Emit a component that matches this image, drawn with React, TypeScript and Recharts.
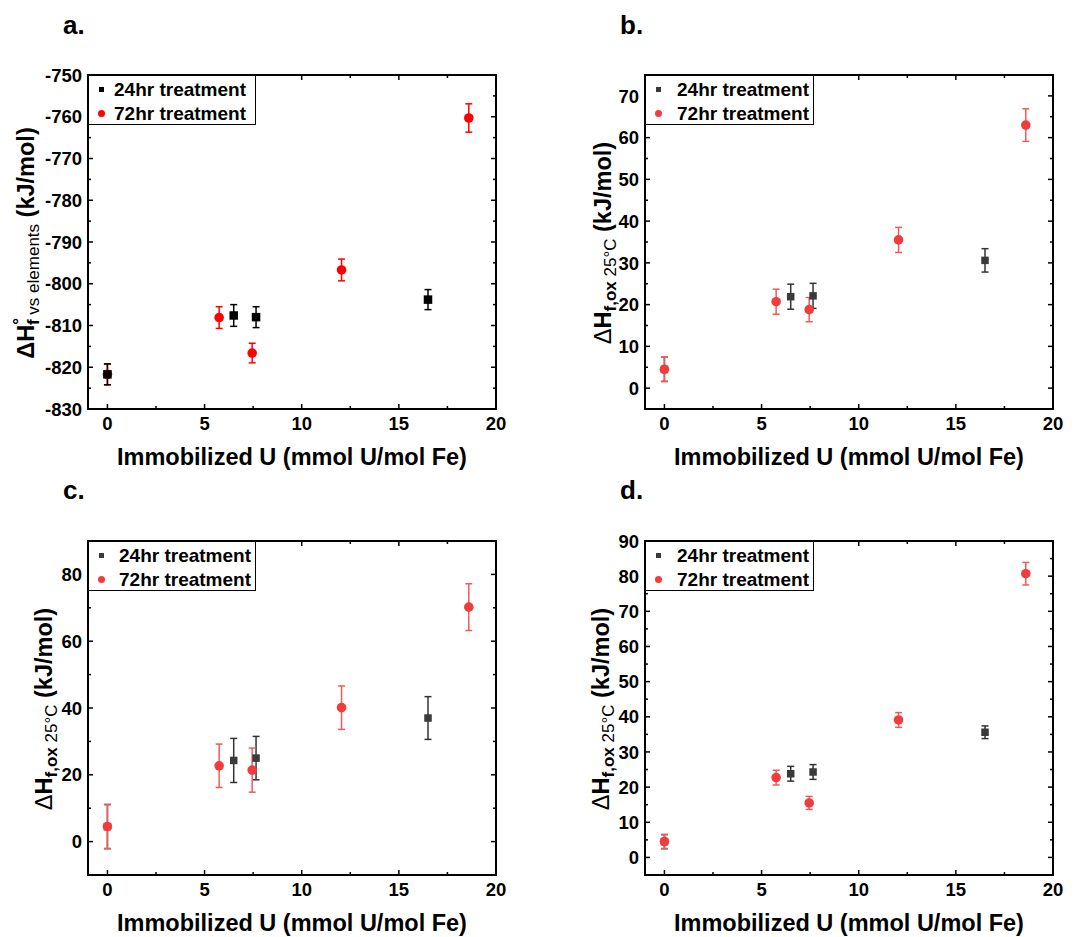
import React from "react";
import {
  ScatterChart,
  Scatter,
  XAxis,
  YAxis,
  ErrorBar,
  ReferenceArea,
  Legend,
} from "recharts";

// immobilized U (mmol U/mol Fe) for each treatment
const x24 = [0, 6.5, 7.65, 16.5];
const x72 = [0, 5.75, 7.45, 12.05, 18.6];
const xMajor = [0, 5, 10, 15, 20];
const xMinor = [2.5, 7.5, 12.5, 17.5];

// a. ΔH°f vs elements
const a24 = [-821.7, -807.6, -808.0, -803.8];
const a24Err = [2.5, 2.6, 2.5, 2.4];
const a72 = [-821.7, -808.1, -816.6, -796.7, -760.3];
const a72Err = [2.5, 2.6, 2.35, 2.6, 3.4];
const aMajor = [-830, -820, -810, -800, -790, -780, -770, -760, -750];
const aMinor = [-825, -815, -805, -795, -785, -775, -765, -755];

// b. ΔHf,ox 25°C
const b24 = [4.5, 21.9, 22.1, 30.6];
const b24Err = [2.9, 3.0, 3.0, 2.8];
const b72 = [4.5, 20.7, 18.8, 35.5, 63.0];
const b72Err = [2.9, 3.0, 2.9, 3.0, 3.9];
const bMajor = [0, 10, 20, 30, 40, 50, 60, 70];
const bMinor = [-5, 5, 15, 25, 35, 45, 55, 65, 75];

// c. ΔHf,ox 25°C
const c24 = [4.5, 24.3, 25.0, 37.0];
const c24Err = [6.6, 6.6, 6.5, 6.4];
const c72 = [4.5, 22.7, 21.4, 40.1, 70.2];
const c72Err = [6.6, 6.5, 6.6, 6.5, 7.0];
const cMajor = [0, 20, 40, 60, 80];
const cMinor = [-10, 10, 30, 50, 70, 90];

// d. ΔHf,ox 25°C
const d24 = [4.5, 23.8, 24.3, 35.6];
const d24Err = [2.0, 2.1, 2.1, 1.8];
const d72 = [4.5, 22.7, 15.5, 39.1, 80.7];
const d72Err = [2.0, 2.1, 1.85, 2.1, 3.2];
const dMajor = [0, 10, 20, 30, 40, 50, 60, 70, 80, 90];
const dMinor = [-5, 5, 15, 25, 35, 45, 55, 65, 75, 85];

const seriesNames = ["24hr treatment", "72hr treatment"];
const xTitle = "Immobilized U (mmol U/mol Fe)";

const FONT = "'Liberation Sans', Arial, sans-serif";
const Y_AXIS_W = 60;
const X_AXIS_H = 40;

const rows = (xs: number[], ys: number[], errs: number[]) =>
  xs.map((x, i) => ({ x, y: ys[i], err: errs[i] }));

type Spec = {
  title: string;
  left: number;
  top: number;
  height: number;
  margin: { top: number; right: number; bottom: number; left: number };
  yDomain: [number, number];
  yMajor: number[];
  yMinor: number[];
  d24: { x: number; y: number; err: number }[];
  d72: { x: number; y: number; err: number }[];
  classic: boolean; // panel a: pure black / red, 24hr drawn on top
  yKind: "elements" | "ox";
  yTitleX: number;
  titleX: number;
  titleY: number;
  legendW: number;
  legendTextX: number;
};

const panels: Spec[] = [
  {
    title: "a.",
    left: 0,
    top: 0,
    height: 470,
    margin: { top: 75, right: 47, bottom: 21, left: 28 },
    yDomain: [-830, -750],
    yMajor: aMajor,
    yMinor: aMinor,
    d24: rows(x24, a24, a24Err),
    d72: rows(x72, a72, a72Err),
    classic: true,
    yKind: "elements",
    yTitleX: 34,
    titleX: 63,
    titleY: 34,
    legendW: 168,
    legendTextX: 25,
  },
  {
    title: "b.",
    left: 543,
    top: 0,
    height: 470,
    margin: { top: 75, right: 33, bottom: 21, left: 42 },
    yDomain: [-5, 75],
    yMajor: bMajor,
    yMinor: bMinor,
    d24: rows(x24, b24, b24Err),
    d72: rows(x72, b72, b72Err),
    classic: false,
    yKind: "ox",
    yTitleX: 68,
    titleX: 77,
    titleY: 34,
    legendW: 169,
    legendTextX: 31,
  },
  {
    title: "c.",
    left: 0,
    top: 470,
    height: 467,
    margin: { top: 71, right: 47, bottom: 22, left: 28 },
    yDomain: [-10, 90],
    yMajor: cMajor,
    yMinor: cMinor,
    d24: rows(x24, c24, c24Err),
    d72: rows(x72, c72, c72Err),
    classic: false,
    yKind: "ox",
    yTitleX: 52,
    titleX: 63,
    titleY: 29,
    legendW: 168,
    legendTextX: 30,
  },
  {
    title: "d.",
    left: 543,
    top: 470,
    height: 467,
    margin: { top: 71, right: 33, bottom: 22, left: 42 },
    yDomain: [-5, 90],
    yMajor: dMajor,
    yMinor: dMinor,
    d24: rows(x24, d24, d24Err),
    d72: rows(x72, d72, d72Err),
    classic: false,
    yKind: "ox",
    yTitleX: 66,
    titleX: 77,
    titleY: 29,
    legendW: 169,
    legendTextX: 31,
  },
];

function YTitle({ cx, cy, kind }: { cx: number; cy: number; kind: string }) {
  return (
    <text
      x={cx}
      y={cy}
      transform={`rotate(-90 ${cx} ${cy})`}
      textAnchor="middle"
      fontFamily={FONT}
      fontSize={23.5}
      fontWeight="bold"
      fill="#000"
    >
      {kind === "elements" ? (
        <>
          <tspan>ΔH</tspan>
          <tspan fontSize={17} dy={-9}>°</tspan>
          <tspan fontSize={17} dx={-7} dy={14}>f</tspan>
          <tspan fontSize={17} fontWeight="normal"> vs elements</tspan>
          <tspan dy={-5}> (kJ/mol)</tspan>
        </>
      ) : (
        <>
          <tspan fontWeight="normal">Δ</tspan>
          <tspan>H</tspan>
          <tspan fontSize={17} dy={5}>f,ox</tspan>
          <tspan fontSize={17} fontWeight="normal"> 25°C</tspan>
          <tspan dy={-5}> (kJ/mol)</tspan>
        </>
      )}
    </text>
  );
}

function Panel({ spec }: { spec: Spec }) {
  const width = 543;
  const { margin, height, classic } = spec;
  const plotLeft = margin.left + Y_AXIS_W;
  const plotTop = margin.top;
  const plotW = width - plotLeft - margin.right;
  const plotH = height - margin.top - margin.bottom - X_AXIS_H;
  const c24 = classic ? "#000000" : "#3a3a3a";
  const c72 = classic ? "#ff0000" : "#f23c3c";
  const e72 = classic ? "#ff0000" : "#f25a5a";
  const sq = classic ? 8.5 : 7.5;

  const xTicks = [...xMajor, ...xMinor].sort((p, q) => p - q);
  const yTicks = [...spec.yMajor, ...spec.yMinor].sort((p, q) => p - q);

  const XTick = (props: any) => {
    const { x, y, payload } = props;
    const v = payload.value;
    const major = xMajor.includes(v);
    const len = major ? 5 : 3;
    return (
      <g>
        <line x1={x} x2={x} y1={y} y2={y - len} stroke="#000" strokeWidth={1.5} />
        <line x1={x} x2={x} y1={y - plotH} y2={y - plotH + len} stroke="#000" strokeWidth={1.5} />
        {major && (
          <text x={x} y={y + 21} textAnchor="middle" fontFamily={FONT} fontSize={18.5} fontWeight="bold" fill="#000">
            {v}
          </text>
        )}
      </g>
    );
  };

  const YTick = (props: any) => {
    const { x, y, payload } = props;
    const v = payload.value;
    const major = spec.yMajor.includes(v);
    const len = major ? 5 : 3;
    return (
      <g>
        <line x1={x} x2={x + len} y1={y} y2={y} stroke="#000" strokeWidth={1.5} />
        <line x1={x + plotW} x2={x + plotW - len} y1={y} y2={y} stroke="#000" strokeWidth={1.5} />
        {major && (
          <text x={x - 6} y={y} dy="0.36em" textAnchor="end" fontFamily={FONT} fontSize={18.5} fontWeight="bold" fill="#000">
            {v}
          </text>
        )}
      </g>
    );
  };

  const square = (fill: string, side: number) => (p: any) =>
    <rect x={p.cx - side / 2} y={p.cy - side / 2} width={side} height={side} fill={fill} />;
  const circle = (fill: string, r: number) => (p: any) =>
    <circle cx={p.cx} cy={p.cy} r={r} fill={fill} />;

  const LegendBox = () => (
    <div
      style={{
        position: "relative",
        width: spec.legendW,
        height: 50,
        boxSizing: "border-box",
        border: "1.5px solid #000",
        background: "#fff",
        fontFamily: FONT,
        fontWeight: "bold",
        fontSize: 19,
        color: "#000",
      }}
    >
      {seriesNames.map((name, i) => (
        <div key={name} style={{ position: "absolute", left: 0, top: 3 + i * 24, height: 22, width: "100%" }}>
          {i === 0 ? (
            <div style={{ position: "absolute", left: 10, top: 8, width: 5, height: 5, background: c24 }} />
          ) : (
            <div style={{ position: "absolute", left: 9, top: 7, width: 7, height: 7, borderRadius: "50%", background: c72 }} />
          )}
          <span style={{ position: "absolute", left: spec.legendTextX, top: 0, lineHeight: "22px", whiteSpace: "nowrap" }}>
            {name}
          </span>
        </div>
      ))}
    </div>
  );

  const s24 = (
    <Scatter key="s24" name={seriesNames[0]} data={spec.d24} fill={c24} shape={square(c24, sq)} isAnimationActive={false}>
      <ErrorBar dataKey="err" direction="y" width={3.5} stroke={classic ? "#000" : "#333"} strokeWidth={1.5} />
    </Scatter>
  );
  const s72 = (
    <Scatter key="s72" name={seriesNames[1]} data={spec.d72} fill={c72} shape={circle(c72, 4.8)} isAnimationActive={false}>
      <ErrorBar dataKey="err" direction="y" width={3.5} stroke={e72} strokeWidth={1.5} />
    </Scatter>
  );

  return (
    <div style={{ position: "absolute", left: spec.left, top: spec.top, width, height }}>
      <ScatterChart width={width} height={height} margin={margin}>
        <XAxis
          type="number"
          dataKey="x"
          domain={[-1, 20]}
          ticks={xTicks}
          interval={0}
          allowDataOverflow
          height={X_AXIS_H}
          axisLine={false}
          tickLine={false}
          tickSize={0}
          tickMargin={0}
          tick={XTick}
          label={() => (
            <text
              x={plotLeft + plotW / 2}
              y={plotTop + plotH + 56}
              textAnchor="middle"
              fontFamily={FONT}
              fontSize={23.5}
              fontWeight="bold"
              fill="#000"
            >
              {xTitle}
            </text>
          )}
        />
        <YAxis
          type="number"
          dataKey="y"
          domain={spec.yDomain}
          ticks={yTicks}
          interval={0}
          allowDataOverflow
          width={Y_AXIS_W}
          axisLine={false}
          tickLine={false}
          tickSize={0}
          tickMargin={0}
          tick={YTick}
          label={() => <YTitle cx={spec.yTitleX} cy={plotTop + plotH / 2 + 1} kind={spec.yKind} />}
        />
        <ReferenceArea
          x1={-1}
          x2={20}
          y1={spec.yDomain[0]}
          y2={spec.yDomain[1]}
          fill="none"
          fillOpacity={0}
          stroke="#000"
          strokeWidth={2}
          ifOverflow="visible"
        />
        {classic ? [s72, s24] : [s24, s72]}
        <Legend
          layout="vertical"
          verticalAlign="middle"
          align="center"
          content={LegendBox}
          wrapperStyle={{ left: plotLeft, top: plotTop, width: spec.legendW, height: 50 }}
        />
      </ScatterChart>
      <svg
        width={width}
        height={height}
        style={{ position: "absolute", left: 0, top: 0, pointerEvents: "none" }}
      >
        <text x={spec.titleX} y={spec.titleY} fontFamily={FONT} fontSize={26} fontWeight="bold" fill="#000">
          {spec.title}
        </text>
      </svg>
    </div>
  );
}

export default function App() {
  return (
    <div style={{ position: "absolute", left: 0, top: 0, width: 1086, height: 937, background: "#fff" }}>
      {panels.map((p) => (
        <Panel key={p.title} spec={p} />
      ))}
    </div>
  );
}
